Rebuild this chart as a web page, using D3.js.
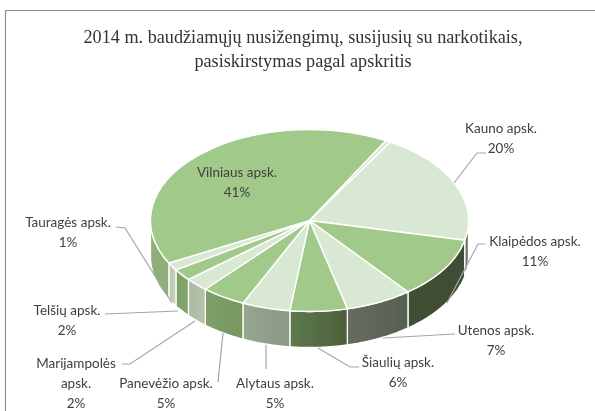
<!DOCTYPE html>
<html><head><meta charset="utf-8">
<script src="https://cdnjs.cloudflare.com/ajax/libs/d3/7.8.5/d3.min.js"></script>
<style>html,body{margin:0;padding:0;background:#fff}svg{display:block}</style>
</head><body><svg id="c" width="595" height="411"></svg>
<script>
const titleLines = ["2014 m. baudžiamųjų nusižengimų, susijusių su narkotikais,", "pasiskirstymas pagal apskritis"];
const categories = ["Kauno apsk.","Klaipėdos apsk.","Utenos apsk.","Šiaulių apsk.","Alytaus apsk.","Panevėžio apsk.","Marijampolės apsk.","Telšių apsk.","Tauragės apsk.","Vilniaus apsk.","(nežymima)"];
const values = [20,10.9,6.8,5.8,4.9,4.5,2.4,2.1,1.4,40.7,0.5];
const topColors = ["#d9e8d2","#a1c98a","#d9e8d2","#a1c98a","#d9e8d2","#a1c98a","#d9e8d2","#a1c98a","#d9e8d2","#a1c98a","#d9e8d2"];
const sideColors = [["#7a8470","#5a6550"],["#3f4d34","#414f36"],["#676c60","#566050"],["#5d7a4c","#4f5f3c"],["#97a690","#8a9a84"],["#7fa068","#76985f"],["#b8c2ae","#aeb9a4"],["#86a870","#7a9e64"],["#c8d2bf","#bcc7b2"],["#8fae78","#8fae78"],["#8fae78","#8fae78"]];
// label layout: category index, text lines, centre x, first line y, line pitch, leader polyline
const labelLayout = [
 {i:0,lines:["Kauno apsk.","20%"],x:501,y:128,p:20.6,leader:[[486,153],[477,153],[454,183]]},
 {i:1,lines:["Klaipėdos apsk.","11%"],x:535,y:241,p:20.6,leader:[[485,244],[478,244],[447,303]]},
 {i:2,lines:["Utenos apsk.","7%"],x:496,y:330,p:20.6,leader:[[455,334],[383,338]]},
 {i:3,lines:["Šiaulių apsk.","6%"],x:398,y:362,p:20.6,leader:[[359,367],[350,367],[318,348]]},
 {i:4,lines:["Alytaus apsk.","5%"],x:275,y:383.5,p:20.3,leader:[[266,369],[266,345]]},
 {i:5,lines:["Panevėžio apsk.","5%"],x:166,y:383.5,p:20.3,leader:[[218,382],[223,333]]},
 {i:6,lines:["Marijampolės","apsk.","2%"],x:76,y:363,p:20,leader:[[122,364],[130,364],[195,321]]},
 {i:7,lines:["Telšių apsk.","2%"],x:67,y:310,p:20.6,leader:[[105,314],[178,311]]},
 {i:8,lines:["Tauragės apsk.","1%"],x:68,y:222,p:20.6,leader:[[116,227],[125,228],[172,303]]},
 {i:9,lines:["Vilniaus apsk.","41%"],x:237,y:172,p:20.6,leader:null}
];
const cx=309.5, cy=220.5, rx=159, ry=91, depth=36, startDeg=30.5;
const svg=d3.select("#c");
const defs=svg.append("defs");
defs.append("filter").attr("id","soft").append("feGaussianBlur").attr("stdDeviation",0.45);
const soft=svg.append("g").attr("filter","url(#soft)");

// frame
soft.append("path").attr("d","M595,10.5H5.5V411").attr("fill","none").attr("stroke","#909090").attr("stroke-width",1.2);

// title
soft.append("g").selectAll("text").data(titleLines).join("text")
 .attr("x",303).attr("y",(d,i)=>43+i*24).attr("text-anchor","middle")
 .attr("font-family","Liberation Serif").attr("font-size",18.2).attr("fill","#333").text(d=>d);

const a0=startDeg*Math.PI/180;
const pie=d3.pie().sort(null).value(d=>d).startAngle(a0).endAngle(a0+2*Math.PI);
const arcs=pie(values);
const sx=d3.scaleLinear().domain([-1,1]).range([cx-rx,cx+rx]);
const sy=d3.scaleLinear().domain([-1,1]).range([cy-ry,cy+ry]);
const pt=(a,dy=0)=>[sx(Math.sin(a)),sy(-Math.cos(a))+dy];

// side walls (front half only)
const line=d3.line();
const wall=soft.append("g");
arcs.forEach((d,k)=>{
  const lo=Math.max(d.startAngle,Math.PI/2), hi=Math.min(d.endAngle,3*Math.PI/2);
  if(hi<=lo) return;
  const as=d3.range(0,41).map(j=>lo+(hi-lo)*j/40);
  const pts=as.map(a=>pt(a)).concat(as.slice().reverse().map(a=>pt(a,depth)));
  const id="w"+k;
  const xs=pts.map(p=>p[0]);
  const g=defs.append("linearGradient").attr("id",id).attr("gradientUnits","userSpaceOnUse")
    .attr("x1",d3.min(xs)).attr("x2",d3.max(xs)).attr("y1",0).attr("y2",0);
  g.append("stop").attr("offset",0).attr("stop-color",sideColors[k][1]);
  g.append("stop").attr("offset",1).attr("stop-color",sideColors[k][0]);
  if(k===2||k===3||k===4||k===5){ g.selectAll("stop").attr("stop-color",(_, j)=>sideColors[k][j]); }
  wall.append("path").attr("d",line(pts)+"Z").attr("fill",`url(#${id})`)
    .attr("stroke","#fff").attr("stroke-width",1.3);
});

// top face
const arc=d3.arc().innerRadius(0).outerRadius(rx);
soft.append("g").attr("transform",`translate(${cx},${cy}) scale(1,${ry/rx})`)
 .selectAll("path").data(arcs).join("path")
 .attr("d",arc).attr("fill",(d,i)=>topColors[i]).attr("stroke","#fff").attr("stroke-width",1.4)
 .attr("vector-effect","non-scaling-stroke");

// leaders
soft.append("g").selectAll("path").data(labelLayout.filter(d=>d.leader)).join("path")
 .attr("d",d=>line(d.leader)).attr("fill","none").attr("stroke","#a6a6a6").attr("stroke-width",1.2);

// labels
const lg=soft.append("g").attr("font-family","Lato").attr("font-size",13.5).attr("fill","#404040").attr("text-anchor","middle");
labelLayout.forEach(l=>{
  l.lines.forEach((t,j)=>lg.append("text").attr("x",l.x).attr("y",l.y+j*l.p+4.5).text(t));
});
</script></body></html>
